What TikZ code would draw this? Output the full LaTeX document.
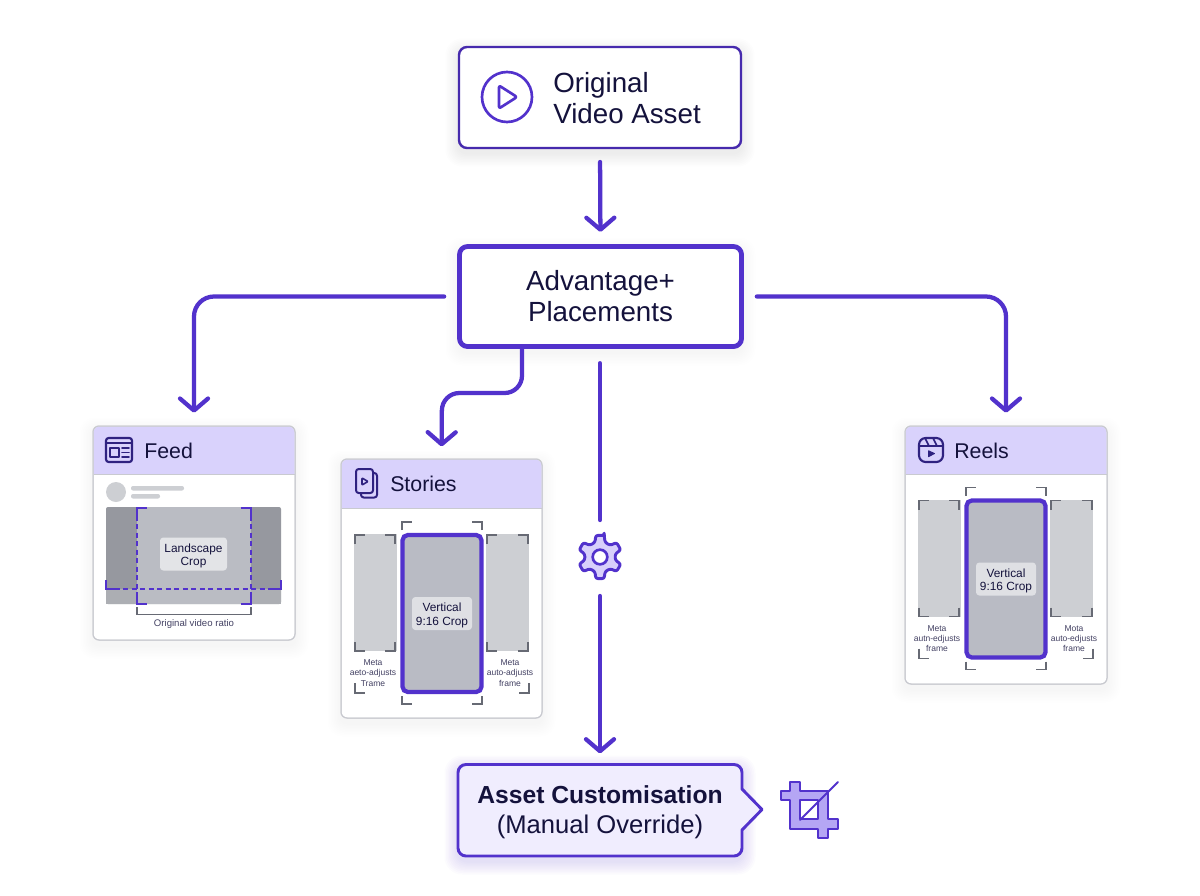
\documentclass[tikz,border=0pt]{standalone}
\usepackage{fontspec}
\setmainfont{Liberation Sans}
\usetikzlibrary{arrows.meta}
\definecolor{ink}{HTML}{14123C}
\definecolor{vio}{HTML}{5232CC}
\definecolor{hdr}{HTML}{D9D2FC}
\definecolor{edgegray}{HTML}{C9CAD0}
\definecolor{paneL}{HTML}{CDCFD3}
\definecolor{paneC}{HTML}{B9BBC4}
\definecolor{brk}{HTML}{676A74}
\definecolor{photoD}{HTML}{96989F}
\definecolor{photoS}{HTML}{ACAEB3}
\definecolor{photoM}{HTML}{BABCC3}
\definecolor{callout}{HTML}{F0EDFE}
\definecolor{cropfill}{HTML}{B5A6F4}
\definecolor{gearfill}{HTML}{D8CFFB}
\definecolor{icn}{HTML}{2F2280}
\tikzset{
  sz/.style 2 args={minimum width=#1*0.75pt,minimum height=#2*0.75pt,inner sep=0pt,outer sep=0pt},
  wire/.style={draw=vio,line width=3.2pt,rounded corners=15pt,line cap=round,line join=round,
     -{Straight Barb[length=9pt,width=21pt,line width=3.2pt,round]}},
  seg/.style={draw=vio,line width=3.2pt,line cap=round},
  card/.style={draw=edgegray,fill=white,line width=0.75pt,rounded corners=4.5pt},
  hdtext/.style={font=\fontsize{16}{19}\selectfont,text=ink,anchor=west,inner sep=0pt},
  main/.style={font=\fontsize{20.8}{23.3}\selectfont,text=ink,align=center},
  small/.style={font=\fontsize{6.4}{7.6}\selectfont,text=ink!80!white,align=center,inner sep=0pt},
  chip/.style={fill=white,fill opacity=0.55,text opacity=1,rounded corners=2.5pt,text=ink,align=center,
     font=\fontsize{8.9}{10.3}\selectfont},
  brkline/.style={draw=brk,line width=1.1pt},
  icon/.style={draw=#1,line width=1.6pt,line join=round,line cap=round},
  icon/.default=vio,
}
% soft shadow: x1 y1 x2 y2 radius colour strength
\newcommand{\softshadow}[7]{%
  \foreach \s in {1,...,9}{%
    \fill[#6,opacity=#7,rounded corners=#5pt+\s*0.7pt]
      ({#1-\s*1.5},{#2-\s*1.5+5}) rectangle ({#3+\s*1.5},{#4+\s*1.5+5});
  }}
\newcommand{\brkt}[4]{\draw[brkline] (#1,{#2+#4}) -- (#1,#2) -- ({#1+#3},#2);}
\newcommand{\chipstrut}{\rule{0pt}{9.5pt}}
% the trio of panes used in Stories and Reels
\newcommand{\cropset}[5]{%
 \begin{scope}[shift={(#2,#3)}]
  \fill[paneL] (354,534) rectangle (397,651);
  \fill[paneL] (486,534) rectangle (529,651);
  \node[sz={79}{157},fill=paneC,draw=vio,line width=3.2pt,rounded corners=4pt] (#1crop) at (442,613.5) {};
  \node[chip,sz={60}{33}] (#1chip) at (442,613.5) {\chipstrut Vertical\\9:16 Crop};
  \brkt{402}{522}{10}{8}\brkt{482}{522}{-10}{8}\brkt{402}{704}{10}{-8}\brkt{482}{704}{-10}{-8}
  \brkt{355}{535}{10}{9}\brkt{395}{535}{-10}{9}\brkt{355}{651}{10}{-9}\brkt{395}{651}{-10}{-9}
  \brkt{487}{535}{10}{9}\brkt{528}{535}{-10}{9}\brkt{487}{651}{10}{-9}\brkt{528}{651}{-10}{-9}
  \brkt{355}{693}{10}{-10}\brkt{529}{693}{-10}{-10}
  \node[small] (#1capL) at (373,673) {#4};
  \node[small] (#1capR) at (510,673) {#5};
 \end{scope}}
\begin{document}
\begin{tikzpicture}[x=0.75pt,y=-0.75pt]
\useasboundingbox (0,0) rectangle (1200,896);
\fill[white] (0,0) rectangle (1200,896);

% ---------- Original video asset
\softshadow{459}{47}{741}{148}{6}{black}{0.008}
\node[sz={282}{101},draw=vio!85!black,fill=white,line width=1.8pt,rounded corners=6pt] (orig) at (600,97.5) {};
\draw[icon,line width=2pt] (507,97) circle (25);
\draw[icon,line width=2pt,rounded corners=1.5pt] (499,85.5) -- (517,97) -- (499,108.5) -- cycle;
\node[main,align=left,anchor=west,inner sep=0pt] (origtext) at (553,98.5) {Original\\Video Asset};

% ---------- Advantage+
\softshadow{459}{246}{742}{347}{6}{black}{0.005}
\node[sz={282}{100},draw=vio,fill=white,line width=3.6pt,rounded corners=6pt,main] (adv) at (600.5,296.5) {Advantage+\\Placements};

% ---------- Feed card
\softshadow{93}{426}{295}{640}{5}{black}{0.004}
\node[sz={202}{214},card] (feed) at (194,533) {};
\fill[hdr] (93.5,474) [rounded corners=4.5pt]-- (93.5,426.5) -- (294.5,426.5) [sharp corners]-- (294.5,474) -- cycle;
\draw[edgegray,line width=0.8pt] (93.5,474.5) -- (294.5,474.5);
\draw[card,fill=none] (93,426) rectangle (295,640);
\draw[icon=icn,rounded corners=2pt] (106,438) rectangle (132,462);
\draw[icon=icn,line width=1.2pt] (106,443) -- (132,443);
\draw[icon=icn,line width=1.4pt] (110,448) rectangle (119,457);
\draw[icon=icn,line width=1.2pt] (122,448) -- (129,448) (122,452.5) -- (129,452.5) (122,457) -- (129,457);
\node[hdtext] (feedtitle) at (144,450.5) {Feed};
\fill[paneL] (116,492) circle (10);
\fill[paneL,rounded corners=1.5pt] (131,486) rectangle (184,490.5);
\fill[paneL,rounded corners=1.5pt] (131,494) rectangle (160,498.5);
\fill[photoD,rounded corners=1.5pt] (106,507) rectangle (281,604);
\fill[photoS] (106,589) rectangle (281,604);
\fill[photoM] (137,507) rectangle (251,604);
\node[chip,sz={67}{33},fill opacity=0.6] (landchip) at (193.5,554) {\chipstrut Landscape\\Crop};
\begin{scope}[vio,line width=1.15pt]
 \draw[dash pattern=on 3.8pt off 2.6pt] (137,507) -- (137,604) (251,507) -- (251,604) (106,589) -- (281,589);
 \draw[line width=1.4pt] (147,508) -- (137,508) -- (137,517);
 \draw[line width=1.4pt] (241,508) -- (251,508) -- (251,517);
 \draw[line width=1.4pt] (137,594) -- (137,604) -- (147,604);
 \draw[line width=1.4pt] (251,594) -- (251,604) -- (241,604);
 \draw[line width=1.4pt] (106,580) -- (106,589) -- (116,589);
 \draw[line width=1.4pt] (281,580) -- (281,589) -- (271,589);
\end{scope}
\draw[brkline] (137,607) -- (137,614.5) -- (251,614.5) -- (251,607);
\node[small,font=\fontsize{7.2}{9}\selectfont] (feedcap) at (194,624.5) {Original video ratio};

% ---------- Stories card
\softshadow{341}{459}{542}{718}{5}{black}{0.004}
\node[sz={201}{259},card] (stories) at (441.5,588.5) {};
\fill[hdr] (341.5,508) [rounded corners=4.5pt]-- (341.5,459.5) -- (541.5,459.5) [sharp corners]-- (541.5,508) -- cycle;
\draw[edgegray,line width=0.8pt] (341.5,508.5) -- (541.5,508.5);
\draw[card,fill=none] (341,459) rectangle (542,718);
\draw[icon=icn,line width=1.5pt,rounded corners=2pt,fill=none] (356,469) rectangle (373,493);
\draw[icon=icn,line width=1.5pt,rounded corners=2pt] (375,473) -- (377,473) -- (377,497.5) -- (361,497.5) -- (361,494);
\draw[icon=icn,line width=1.2pt,rounded corners=0.5pt] (362,478) -- (368,481.5) -- (362,485) -- cycle;
\node[hdtext] (storiestitle) at (390,484) {Stories};
\cropset{s}{0}{0}{Meta\\aeto-adjusts\\Trame}{Meta\\auto-adjusts\\frame}

% ---------- Reels card
\softshadow{905}{426}{1107}{684}{5}{black}{0.004}
\node[sz={202}{258},card] (reels) at (1006,555) {};
\fill[hdr] (905.5,474) [rounded corners=4.5pt]-- (905.5,426.5) -- (1106.5,426.5) [sharp corners]-- (1106.5,474) -- cycle;
\draw[edgegray,line width=0.8pt] (905.5,474.5) -- (1106.5,474.5);
\draw[card,fill=none] (905,426) rectangle (1107,684);
\draw[icon=icn,rounded corners=5pt] (919,438) rectangle (943,462);
\draw[icon=icn,line width=1.2pt] (919,446) -- (943,446) (925,438) -- (929,446) (933,438) -- (937,446);
\fill[icn,rounded corners=0.5pt] (928,450) -- (935.5,453.5) -- (928,457.5) -- cycle;
\node[hdtext] (reelstitle) at (954,450.5) {Reels};
\cropset{r}{564}{-34.5}{Meta\\autn-edjusts\\frame}{Mota\\auto-edjusts\\frame}

% ---------- Asset customisation callout
\softshadow{458}{764}{742}{856}{7}{vio}{0.014}
\draw[draw=vio,fill=callout,line width=2.2pt,line join=round,rounded corners=6pt]
  (600,764.5) -- (742,764.5) [sharp corners]-- (742,789) -- (762,809.5) -- (742,830)
  [rounded corners=6pt]-- (742,856) -- (458,856) -- (458,764.5) -- cycle;
\node[sz={284}{92},text=ink,align=center,font=\fontsize{19.2}{22.5}\selectfont] (asset) at (600,812)
  {{\fontsize{18.5}{22.5}\selectfont\bfseries Asset Customisation}\\(Manual Override)};
% crop icon
\draw[draw=vio,fill=cropfill,line width=1.4pt,line join=round,even odd rule]
  (790,782) -- (800,782) -- (800,791) -- (828,791) -- (828,819) -- (838,819) -- (838,829) -- (828,829)
  -- (828,838) -- (818,838) -- (818,829) -- (790,829) -- (790,800) -- (781,800) -- (781,791) -- (790,791) -- cycle
  (800,800) -- (818,800) -- (818,819) -- (800,819) -- cycle;
\draw[vio,line width=1.4pt,line cap=round] (800,820) -- (838,782);

% ---------- Gear
\coordinate (gearc) at (600,557);
\draw[fill=gearfill,draw=vio,line width=2.2pt,line join=round,rounded corners=1.6pt]
  ({600+22*cos(79)},{557-22*sin(79)})
  \foreach \a in {90,150,210,270,330,30}{
    -- ({600+22*cos(\a-11)},{557-22*sin(\a-11)})
    -- ({600+22*cos(\a+11)},{557-22*sin(\a+11)})
    -- ({600+15.5*cos(\a+19)},{557-15.5*sin(\a+19)})
    -- ({600+15.5*cos(\a+41)},{557-15.5*sin(\a+41)})
  } -- cycle;
\node[circle,draw=vio,fill=white,line width=2pt,minimum size=11pt,inner sep=0pt] (gear) at (gearc) {};

% ---------- Connectors
\draw[wire,shorten <=10.5pt,shorten >=11pt] (orig.south) -- (adv.north);
\draw[wire,shorten <=11.5pt,shorten >=10pt] (adv.west) -- (adv.west -| feed.north) -- (feed.north);
\draw[wire,shorten <=11.5pt,shorten >=10pt] (adv.east) -- (adv.east -| reels.north) -- (reels.north);
\coordinate (advS) at (522,347);
\coordinate (bendA) at (522,393);
\coordinate (bendB) at (442,393);
\draw[wire,shorten >=9.5pt,rounded corners=13pt] (advS) -- (bendA) -- (bendB) -- (stories.north);
\coordinate (g1) at (600,520);
\coordinate (g2) at (600,596);
\draw[seg,shorten <=12.5pt] (adv.south -| gear) -- (g1);
\draw[wire,shorten >=9.5pt] (g2) -- (gear.south |- asset.north);
\end{tikzpicture}
\end{document}
